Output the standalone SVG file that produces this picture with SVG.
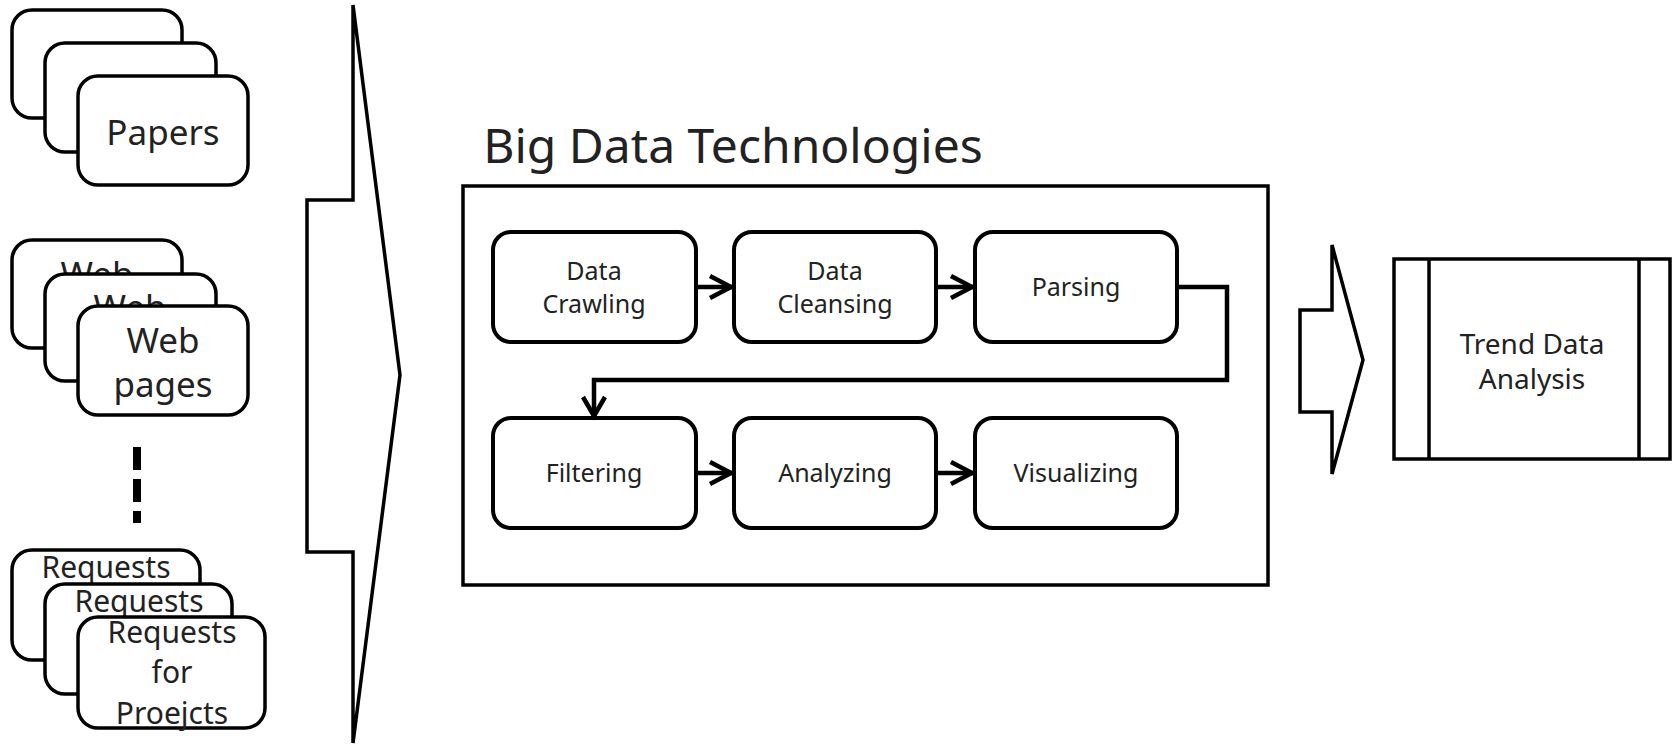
<svg xmlns="http://www.w3.org/2000/svg" width="1673" height="747" viewBox="0 0 1673 747">
<style>
text{font-family:"Noto Sans","Liberation Sans",sans-serif;fill:#222;text-anchor:middle}
.card{fill:#fff;stroke:#000;stroke-width:3.5}
.card-t{font-size:35px}
.req-t{font-size:30px}
.box{fill:#fff;stroke:#000;stroke-width:4}
.box-t{font-size:25px}
.frame{fill:none;stroke:#000;stroke-width:3.5}
.conn{fill:none;stroke:#000;stroke-width:4.5}
.head{fill:none;stroke:#000;stroke-width:4.5;stroke-linejoin:miter}
.bigarrow{fill:#fff;stroke:#000;stroke-width:3.5;stroke-linejoin:miter}
</style>

<g id="papers">
  <rect class="card" x="12" y="10" width="170" height="108" rx="20"/>
  <rect class="card" x="45" y="43" width="171" height="109" rx="20"/>
  <rect class="card" x="78" y="76" width="170" height="109" rx="20"/>
  <text class="card-t" x="163" y="145">Papers</text>
</g>

<g id="webpages">
  <rect class="card" x="12" y="240" width="170" height="108" rx="20"/>
  <text class="card-t" x="97" y="287">Web</text>
  <rect class="card" x="45" y="274" width="171" height="107" rx="20"/>
  <text class="card-t" x="130" y="320">Web</text>
  <rect class="card" x="78" y="306" width="170" height="109" rx="20"/>
  <text class="card-t" x="163" y="353">Web</text>
  <text class="card-t" x="163" y="397">pages</text>
</g>

<g id="ellipsis">
  <line x1="137" y1="447" x2="137" y2="523" stroke="#000" stroke-width="8" stroke-dasharray="23 9"/>
</g>

<g id="requests">
  <rect class="card" x="12" y="550" width="188" height="110" rx="20"/>
  <text class="req-t" x="106" y="578">Requests</text>
  <rect class="card" x="45" y="584" width="187" height="110" rx="20"/>
  <text class="req-t" x="139" y="612">Requests</text>
  <rect class="card" x="78" y="617" width="187" height="111" rx="20"/>
  <text class="req-t" x="172" y="643">Requests</text>
  <text class="req-t" x="172" y="683">for</text>
  <text class="req-t" x="172" y="724">Proejcts</text>
</g>

<g id="input-arrow">
  <path class="bigarrow" d="M353,5 L353,200 L307,200 L307,552 L353,552 L353,743 L400,375 Z"/>
</g>

<g id="bigdata">
  <text x="733" y="163" style="font-size:48px">Big Data Technologies</text>
  <rect class="frame" x="463" y="186" width="805" height="399"/>
</g>

<g id="crawling">
  <rect class="box" x="493" y="232" width="203" height="110" rx="18"/>
  <text class="box-t" x="594" y="280">Data</text>
  <text class="box-t" x="594" y="313">Crawling</text>
</g>
<g id="cleansing">
  <rect class="box" x="734" y="232" width="202" height="110" rx="18"/>
  <text class="box-t" x="835" y="280">Data</text>
  <text class="box-t" x="835" y="313">Cleansing</text>
</g>
<g id="parsing">
  <rect class="box" x="975" y="232" width="202" height="110" rx="18"/>
  <text class="box-t" x="1076" y="296">Parsing</text>
</g>
<g id="filtering">
  <rect class="box" x="493" y="418" width="203" height="110" rx="18"/>
  <text class="box-t" x="594" y="482">Filtering</text>
</g>
<g id="analyzing">
  <rect class="box" x="734" y="418" width="202" height="110" rx="18"/>
  <text class="box-t" x="835" y="482">Analyzing</text>
</g>
<g id="visualizing">
  <rect class="box" x="975" y="418" width="202" height="110" rx="18"/>
  <text class="box-t" x="1076" y="482">Visualizing</text>
</g>

<g id="connectors">
  <line class="conn" x1="696" y1="287" x2="732" y2="287"/>
  <polyline class="head" points="710,276 731,287 710,298"/>
  <line class="conn" x1="936" y1="287" x2="973" y2="287"/>
  <polyline class="head" points="951,276 972,287 951,298"/>
  <polyline class="conn" points="1177,287 1227,287 1227,380 594,380 594,416"/>
  <polyline class="head" points="583,397 594,416 605,397"/>
  <line class="conn" x1="696" y1="473" x2="732" y2="473"/>
  <polyline class="head" points="710,462 731,473 710,484"/>
  <line class="conn" x1="936" y1="473" x2="973" y2="473"/>
  <polyline class="head" points="951,462 972,473 951,484"/>
</g>

<g id="output-arrow">
  <path class="bigarrow" d="M1332,245 L1332,310 L1300,310 L1300,412 L1332,412 L1332,474 L1363,360 Z"/>
</g>

<g id="trend">
  <rect class="frame" x="1394" y="259" width="276" height="200"/>
  <line x1="1429" y1="259" x2="1429" y2="459" stroke="#000" stroke-width="3.5"/>
  <line x1="1639" y1="259" x2="1639" y2="459" stroke="#000" stroke-width="3.5"/>
  <text x="1532" y="354" style="font-size:28px">Trend Data</text>
  <text x="1532" y="389" style="font-size:28px">Analysis</text>
</g>
</svg>
